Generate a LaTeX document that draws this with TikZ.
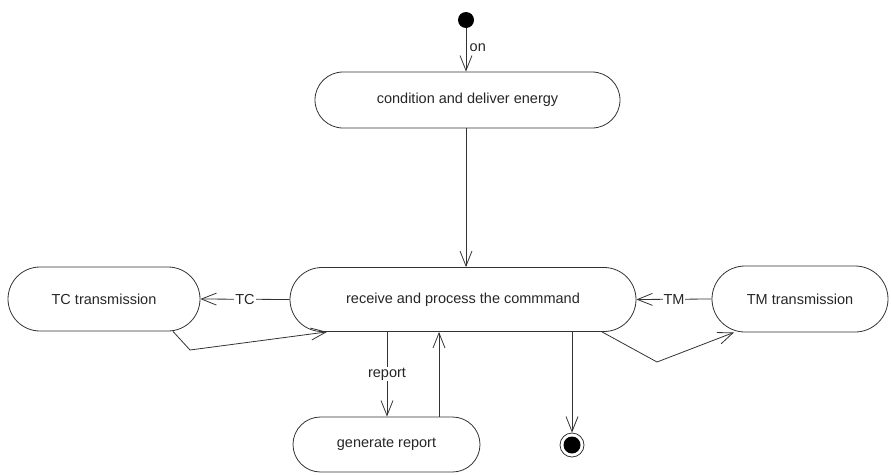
\documentclass[tikz,border=0pt]{standalone}
\usepackage{fontspec}
\setmainfont{Liberation Sans}
\usetikzlibrary{arrows.meta, shapes.misc}

\begin{document}
\begin{tikzpicture}[x=1pt, y=-1pt, line width=0.8pt, draw=black!80,
  every node/.style={font=\fontsize{14.5}{16}\selectfont, text=black!85},
  act/.style={draw, rounded rectangle, inner sep=0pt},
  arr/.style={-{Straight Barb[length=15pt, width=12pt]}},
  lbl/.style={fill=white, inner sep=1pt}]
  \useasboundingbox (0,0) rectangle (891,474);
  % start / end
  \node[circle, fill=black, inner sep=0pt, minimum size=16pt] (init) at (466,20) {};
  \node[circle, draw, inner sep=0pt, minimum size=24pt] (final) at (572,445) {};
  \fill (final.center) circle (8.5);
  % activities
  \node[act, minimum width=305pt, minimum height=56pt] (cond) at (467.5,100) {condition and deliver energy};
  \node[act, minimum width=346pt, minimum height=64pt] (recv) at (463,299.5) {receive and process the commmand};
  \node[act, minimum width=192pt, minimum height=64pt] (tc) at (104,299) {TC transmission};
  \node[act, minimum width=176pt, minimum height=66pt] (tm) at (800,299) {TM transmission};
  \node[act, minimum width=187pt, minimum height=55pt] (gen) at (386.5,444.5) {generate report};
  % bend points
  \coordinate (tcbend) at (190,350);
  \coordinate (tmbend) at (657,362);

  \draw[arr] (init) -- node[right, pos=0.45] {on} (init |- cond.north);
  \draw[arr] (cond.south -| init) -- (recv.north -| init);
  \draw[arr] (recv.west) -- node[lbl] {TC} (tc.east);
  \draw[arr] (tm.west) -- node[lbl] {TM} (recv.east);
  \draw[arr] (tc.south -| 173,0) -- (tcbend) -- (recv.south -| 327,0);
  \draw[arr] (recv.south -| 602,0) -- (tmbend) -- (tm.south -| 734,0);
  \draw[arr] (recv.south -| 387,0) -- node[lbl] {report} (gen.north -| 387,0);
  \draw[arr] (gen.north -| 439,0) -- (recv.south -| 439,0);
  \draw[arr] (recv.south -| final) -- (final.north);
\end{tikzpicture}
\end{document}
